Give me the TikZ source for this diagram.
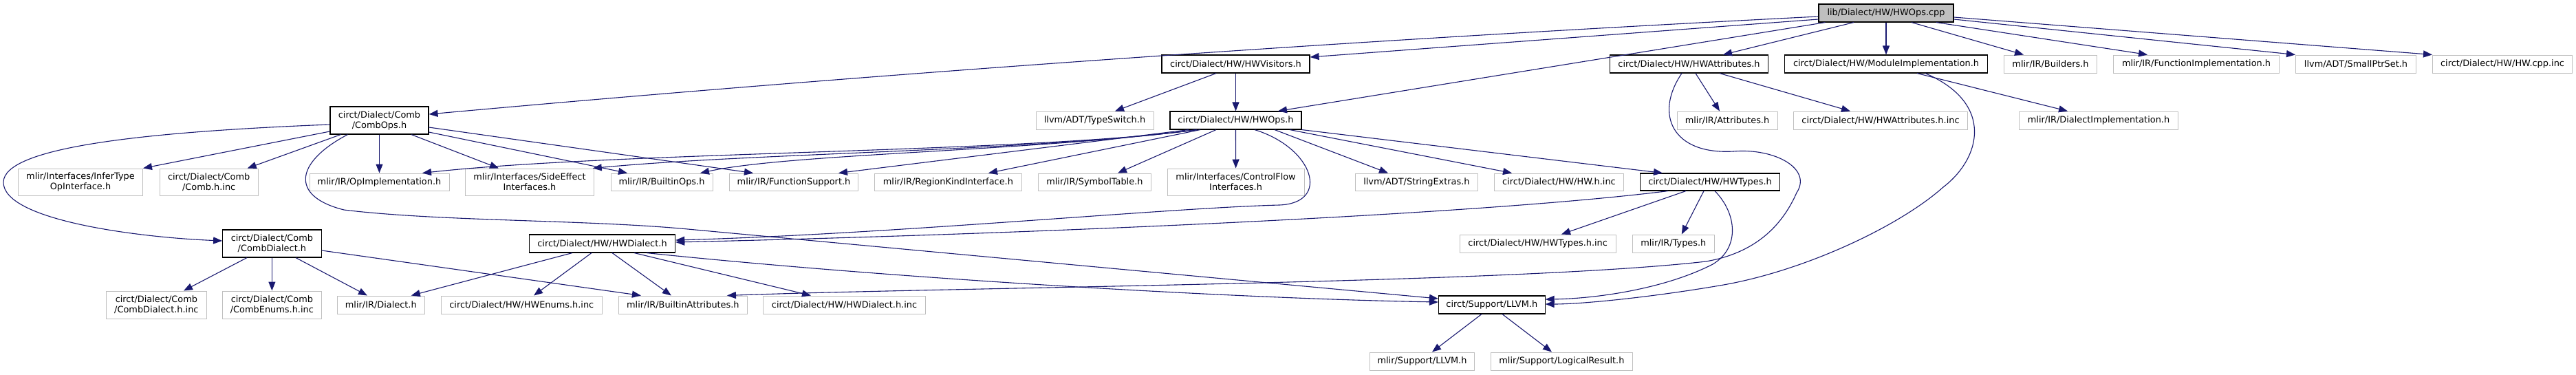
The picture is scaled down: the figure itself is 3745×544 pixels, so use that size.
\documentclass[tikz,border=0pt]{standalone}
\usepackage{fontspec}
\setmainfont{DejaVu Sans}
\usetikzlibrary{arrows.meta}
\definecolor{edgec}{HTML}{191970}
\definecolor{grayb}{HTML}{BFBFBF}
\tikzset{
  nd/.style={draw=grayb, line width=1pt, inner sep=0pt, align=center, text=black,
    font=\fontsize{12.9pt}{15pt}\selectfont},
  dn/.style={nd, draw=black, line width=1.1pt},
  dep/.style={draw=edgec, line width=1.1pt, -{Triangle[length=13pt,width=10pt]}},
}
\newcommand{\nb}[6]{\node[#1, minimum width=#4pt, minimum height=#5pt] (#2) at (#3) {#6};}
\begin{document}
\begin{tikzpicture}[x=1pt,y=-1pt]
\fill[white] (0,0) rectangle (3745,544);
\useasboundingbox (0,0) rectangle (3745,544);
% row 0
\nb{dn,fill=grayb}{root}{2742,19}{196}{26}{lib/Dialect/HW/HWOps.cpp}
% row 1
\nb{dn}{vis}{1796.5,93}{215}{26}{circt/Dialect/HW/HWVisitors.h}
\nb{dn}{attr}{2455.5,93}{230}{26}{circt/Dialect/HW/HWAttributes.h}
\nb{dn}{modimpl}{2742,93}{295}{26}{circt/Dialect/HW/ModuleImplementation.h}
\nb{nd}{builders}{2981,93}{135}{26}{mlir/IR/Builders.h}
\nb{nd}{funcimpl}{3193,93}{241}{26}{mlir/IR/FunctionImplementation.h}
\nb{nd}{smallptr}{3425,93}{175}{26}{llvm/ADT/SmallPtrSet.h}
\nb{nd}{cppinc}{3638,93}{203}{26}{circt/Dialect/HW/HW.cpp.inc}
% row 2
\nb{dn}{combops}{551.5,175}{143}{40}{circt/Dialect/Comb\\/CombOps.h}
\nb{nd}{typeswitch}{1591.5,175}{171}{26}{llvm/ADT/TypeSwitch.h}
\nb{dn}{hwops}{1796.5,175}{191}{26}{circt/Dialect/HW/HWOps.h}
\nb{nd}{attrs}{2511,175}{146}{26}{mlir/IR/Attributes.h}
\nb{nd}{hwattrinc}{2734,175}{253}{26}{circt/Dialect/HW/HWAttributes.h.inc}
\nb{nd}{dialimpl}{3051,175}{231}{26}{mlir/IR/DialectImplementation.h}
% row 3
\nb{nd}{infer}{117,264.5}{181}{39}{mlir/Interfaces/InferType\\OpInterface.h}
\nb{nd}{combinc}{303.7,264.5}{143}{39}{circt/Dialect/Comb\\/Comb.h.inc}
\nb{nd}{opimpl}{551.5,264.5}{203}{25}{mlir/IR/OpImplementation.h}
\nb{nd}{sideeff}{770,264.5}{186.5}{39}{mlir/Interfaces/SideEffect\\Interfaces.h}
\nb{nd}{builtinops}{962,264.5}{148}{25}{mlir/IR/BuiltinOps.h}
\nb{nd}{funcsup}{1154,264.5}{186.6}{25}{mlir/IR/FunctionSupport.h}
\nb{nd}{regionkind}{1378.4,264.5}{213.7}{25}{mlir/IR/RegionKindInterface.h}
\nb{nd}{symtab}{1591.4,264.5}{164}{25}{mlir/IR/SymbolTable.h}
\nb{nd}{ctrlflow}{1796.6,264.5}{199}{39}{mlir/Interfaces/ControlFlow\\Interfaces.h}
\nb{nd}{strext}{2059.4,264.5}{178}{25}{llvm/ADT/StringExtras.h}
\nb{nd}{hwhinc}{2266.4,264.5}{188}{25}{circt/Dialect/HW/HW.h.inc}
\nb{dn}{hwtypes}{2486,264.5}{202.5}{25}{circt/Dialect/HW/HWTypes.h}
% row 4
\nb{dn}{combdial}{395.4,354}{143.5}{40}{circt/Dialect/Comb\\/CombDialect.h}
\nb{dn}{hwdial}{875.5,354}{212.4}{26}{circt/Dialect/HW/HWDialect.h}
\nb{nd}{hwtypesinc}{2235.7,354}{227}{26}{circt/Dialect/HW/HWTypes.h.inc}
\nb{nd}{types}{2432.8,354}{119}{26}{mlir/IR/Types.h}
% row 5
\nb{nd}{combdialinc}{227.4,443}{145.5}{40}{circt/Dialect/Comb\\/CombDialect.h.inc}
\nb{nd}{combenums}{395.4,443}{143.5}{40}{circt/Dialect/Comb\\/CombEnums.h.inc}
\nb{nd}{dialect}{553.8,443}{127}{26}{mlir/IR/Dialect.h}
\nb{nd}{hwenums}{758.3,443}{234}{26}{circt/Dialect/HW/HWEnums.h.inc}
\nb{nd}{builtinattr}{992.9,443}{187}{26}{mlir/IR/BuiltinAttributes.h}
\nb{nd}{hwdialinc}{1227.5,443}{235.6}{26}{circt/Dialect/HW/HWDialect.h.inc}
\nb{dn}{llvm}{2168.8,443}{154.7}{26}{circt/Support/LLVM.h}
% row 6
\nb{nd}{mllvm}{2067.5,525}{152}{26}{mlir/Support/LLVM.h}
\nb{nd}{logres}{2270.4,525}{205.7}{26}{mlir/Support/LogicalResult.h}

% ---- root edges
\draw[dep] ([yshift=-5pt]root.west) .. controls (1970,58) and (1297,105) .. ([yshift=9pt]combops.east);
\draw[dep] ([yshift=-9pt]root.west) -- ([yshift=10pt]vis.east);
\draw[dep] ([xshift=10pt]root.south west) -- ([xshift=61.5pt]hwops.north);
\draw[dep] ([xshift=-47pt]root.south) -- ([xshift=49.5pt]attr.north);
\draw[dep] (root.south) -- (modimpl.north);
\draw[dep] ([xshift=37pt]root.south) -- ([xshift=-39pt]builders.north);
\draw[dep] ([xshift=73pt]root.south) -- ([xshift=-71pt]funcimpl.north);
\draw[dep] ([yshift=-9pt]root.east) -- (smallptr.north west);
\draw[dep] ([yshift=-6pt]root.east) -- (cppinc.north west);
% ---- HWVisitors
\draw[dep] ([xshift=-28.5pt]vis.south) -- ([xshift=29.5pt]typeswitch.north);
\draw[dep] (vis.south) -- (hwops.north);
% ---- HWOps
\draw[dep] ([xshift=-56.5pt]hwops.south) .. controls (1500,222) and (900,220) .. ([xshift=62.5pt]opimpl.north);
\draw[dep] ([xshift=-56.5pt]hwops.south) .. controls (1500,220) and (1100,222) .. ([xshift=-2pt]sideeff.north east);
\draw[dep] ([xshift=-56.5pt]hwops.south) .. controls (1500,220) and (1150,223) .. ([xshift=56pt]builtinops.north);
\draw[dep] ([xshift=-68.5pt]hwops.south) -- ([xshift=65pt]funcsup.north);
\draw[dep] ([xshift=-51.5pt]hwops.south) -- ([xshift=58.6pt]regionkind.north);
\draw[dep] ([xshift=-28.5pt]hwops.south) -- ([xshift=33.6pt]symtab.north);
\draw[dep] (hwops.south) -- (ctrlflow.north);
\draw[dep] ([xshift=56.5pt]hwops.south) -- ([xshift=-41.4pt]strext.north);
\draw[dep] ([xshift=78.5pt]hwops.south) -- ([xshift=-68.4pt]hwhinc.north);
\draw[dep] (hwops.south east) -- ([xshift=-69pt]hwtypes.north);
\draw[dep] ([xshift=27.5pt]hwops.south) .. controls (1910,215) and (1935,295) .. (1860,298)
  .. controls (1700,302) and (1300,340) .. ([yshift=5pt]hwdial.east);
% ---- HWTypes
\draw[dep] ([xshift=-61pt]hwtypes.south) .. controls (2150,312) and (1500,340) .. ([yshift=2pt]hwdial.east);
\draw[dep] ([xshift=-35pt]hwtypes.south) -- ([xshift=34.3pt]hwtypesinc.north);
\draw[dep] ([xshift=-9pt]hwtypes.south) -- ([xshift=12pt]types.north);
\draw[dep] ([xshift=7pt]hwtypes.south) .. controls (2525,310) and (2530,360) .. (2490,384)
  .. controls (2420,420) and (2320,434) .. ([yshift=8pt]llvm.east);
% ---- ModuleImplementation
\draw[dep] ([xshift=45pt]modimpl.south) -- ([xshift=-45pt]dialimpl.north);
\draw[dep] ([xshift=57pt]modimpl.south) .. controls (2900,150) and (2880,230) .. (2825,272)
  .. controls (2760,330) and (2620,395) .. (2500,415)
  .. controls (2400,432) and (2300,442) .. ([yshift=1pt]llvm.east);
% ---- HWAttributes
\draw[dep] ([xshift=9.5pt]attr.south) -- ([xshift=-11pt]attrs.north);
\draw[dep] ([xshift=44.5pt]attr.south) -- ([xshift=-44pt]hwattrinc.north);
\draw[dep] ([xshift=-10.5pt]attr.south) .. controls (2405,165) and (2430,225) .. (2520,220)
  .. controls (2580,215) and (2635,245) .. (2612,280)
  .. controls (2590,330) and (2550,368) .. (2480,380)
  .. controls (2200,412) and (1400,417) .. ([xshift=64pt]builtinattr.north);
% ---- CombOps
\draw[dep] ([yshift=-6pt]combops.west) .. controls (200,192) and (5,215) .. (5,265)
  .. controls (5,320) and (200,345) .. ([yshift=4pt]combdial.west);
\draw[dep] ([yshift=-16pt]combops.west) -- (infer.north east);
\draw[dep] ([xshift=16pt]combops.south west) -- ([xshift=-16pt]combinc.north east);
\draw[dep] ([xshift=26pt]combops.south west) .. controls (430,235) and (420,285) .. (500,305)
  .. controls (640,322) and (850,319) .. (1000,333)
  -- ([yshift=9pt]llvm.west);
\draw[dep] (combops.south) -- (opimpl.north);
\draw[dep] ([xshift=46.5pt]combops.south) -- ([xshift=-45pt]sideeff.north);
\draw[dep] ([yshift=-17pt]combops.east) -- ([xshift=-50pt]builtinops.north);
\draw[dep] ([yshift=-10pt]combops.east) -- ([xshift=-59pt]funcsup.north);
% ---- CombDialect
\draw[dep] ([xshift=-36.4pt]combdial.south) -- ([xshift=39.6pt]combdialinc.north);
\draw[dep] (combdial.south) -- (combenums.north);
\draw[dep] ([xshift=34.6pt]combdial.south) -- ([xshift=-19.8pt]dialect.north);
\draw[dep] ([yshift=-10pt]combdial.east) -- ([xshift=-61pt]builtinattr.north);
% ---- HWDialect
\draw[dep] ([xshift=-43.5pt]hwdial.south) -- ([xshift=44pt]dialect.north);
\draw[dep] ([xshift=-15.5pt]hwdial.south) -- ([xshift=17.7pt]hwenums.north);
\draw[dep] ([xshift=14.5pt]hwdial.south) -- ([xshift=-17pt]builtinattr.north);
\draw[dep] ([xshift=46.5pt]hwdial.south) -- ([xshift=-48.5pt]hwdialinc.north);
\draw[dep] ([xshift=64.5pt]hwdial.south) .. controls (1300,405) and (1800,434) .. ([yshift=4pt]llvm.west);
% ---- LLVM
\draw[dep] ([xshift=-14.8pt]llvm.south) -- ([xshift=14.5pt]mllvm.north);
\draw[dep] ([xshift=15.2pt]llvm.south) -- ([xshift=-14.4pt]logres.north);
\end{tikzpicture}
\end{document}
